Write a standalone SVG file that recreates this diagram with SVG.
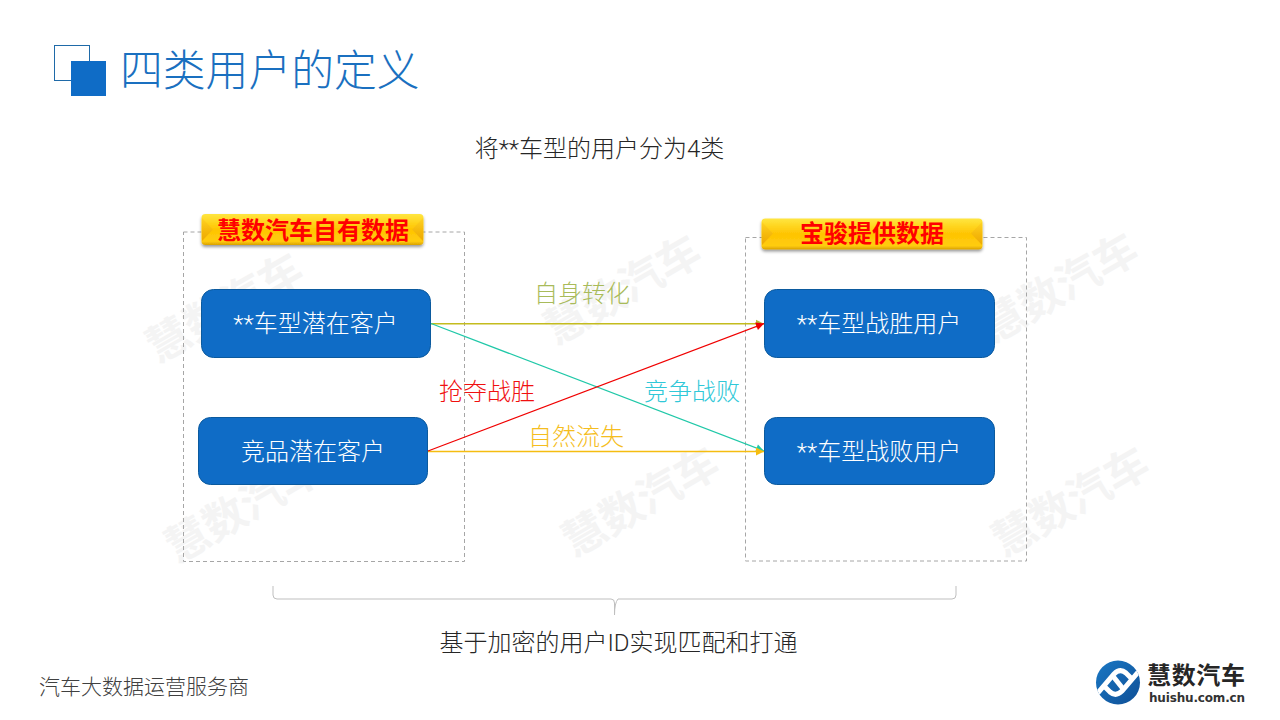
<svg xmlns="http://www.w3.org/2000/svg" width="1280" height="720" viewBox="0 0 1280 720">
<style>
text{font-family:Roboto,"Noto Sans CJK SC",sans-serif;font-weight:300}
.wm{font-size:43px;font-weight:700;fill:#f4f4f4;text-anchor:middle}
.box{fill:#0f6cc6;stroke:#0b5a9e;stroke-width:1}
.nt{fill:#fff;font-size:24px;text-anchor:middle}
.dash{fill:none;stroke:#a6a6a6;stroke-width:1;stroke-dasharray:4 3}
.ban{fill:url(#gold);filter:url(#sh)}
.bt{fill:#f00;font-size:24px;font-weight:700;text-anchor:middle}
.lb{font-size:24px;text-anchor:middle}
.blk{fill:#262626;font-size:24px;text-anchor:middle}
.lg1{font-family:"Noto Sans CJK SC",sans-serif;font-weight:700;font-size:24px;fill:#262626}
.lg2{font-family:"DejaVu Sans",sans-serif;font-weight:700;font-size:12px;fill:#333}
</style>
<defs>
<linearGradient id="gold" x1="0" y1="0" x2="0" y2="1">
<stop offset="0" stop-color="#ffe640"/><stop offset="0.5" stop-color="#ffc400"/><stop offset="0.88" stop-color="#ffcc10"/><stop offset="1" stop-color="#d9a000"/>
</linearGradient>
<linearGradient id="bev" x1="0" y1="0" x2="0" y2="1">
<stop offset="0" stop-color="#ffd020"/><stop offset="1" stop-color="#e8a000"/>
</linearGradient>
<linearGradient id="lg" x1="0" y1="0" x2="1" y2="1">
<stop offset="0" stop-color="#1a78c4"/><stop offset="1" stop-color="#0f4f96"/>
</linearGradient>
<clipPath id="lc"><circle cx="1118" cy="682.500" r="22"/></clipPath>
<filter id="sh" x="-5%" y="-20%" width="110%" height="150%"><feDropShadow dx="0" dy="2" stdDeviation="1.500" flood-color="#000" flood-opacity="0.4"/></filter>
<marker id="aO" markerWidth="10" markerHeight="10" refX="9" refY="5" orient="auto" markerUnits="userSpaceOnUse"><path d="M1 1L9 5L1 9Z" fill="#b4b63a"/></marker>
<marker id="aR" markerWidth="10" markerHeight="10" refX="9" refY="5" orient="auto" markerUnits="userSpaceOnUse"><path d="M1 1L9 5L1 9Z" fill="#f00000"/></marker>
<marker id="aT" markerWidth="10" markerHeight="10" refX="9" refY="5" orient="auto" markerUnits="userSpaceOnUse"><path d="M1 1L9 5L1 9Z" fill="#20c8a8"/></marker>
<marker id="aY" markerWidth="10" markerHeight="10" refX="9" refY="5" orient="auto" markerUnits="userSpaceOnUse"><path d="M1 1L9 5L1 9Z" fill="#f5bd10"/></marker>
</defs>
<rect width="1280" height="720" fill="#fff"/>
<g id="watermarks">
<text class="wm" transform="translate(232 321) rotate(-30)">慧数汽车</text>
<text class="wm" transform="translate(630 303) rotate(-30)">慧数汽车</text>
<text class="wm" transform="translate(1067 301) rotate(-30)">慧数汽车</text>
<text class="wm" transform="translate(251 521) rotate(-30)">慧数汽车</text>
<text class="wm" transform="translate(648 515) rotate(-30)">慧数汽车</text>
<text class="wm" transform="translate(1078 515) rotate(-30)">慧数汽车</text>
</g>
<g id="title">
<rect x="54.500" y="45.500" width="35" height="35" fill="#fff" stroke="#1f6aa8" stroke-width="1"/>
<rect x="71" y="61" width="35" height="35" fill="#0f6cc6"/>
<text x="120" y="85.500" font-size="42.800" fill="#1a70c0">四类用户的定义</text>
</g>
<text x="599.500" y="156.500" class="blk">将**车型的用户分为4类</text>
<g id="left-group">
<rect class="dash" x="183.500" y="232" width="281" height="329.500"/>
<g id="banner-left">
<rect class="ban" x="201.500" y="214" width="222" height="31" rx="4"/>
<path d="M202 218L213 229.500L202 241ZM423 218L412 229.500L423 241Z" fill="url(#bev)" opacity=".8"/>
<text class="bt" x="313" y="239">慧数汽车自有数据</text>
</g>
</g>
<g id="right-group">
<rect class="dash" x="745.500" y="237.500" width="281" height="323.500"/>
<g id="banner-right">
<rect class="ban" x="761.500" y="218.500" width="221" height="31" rx="4"/>
<path d="M762 222L773 233.500L762 245ZM982 222L971 233.500L982 245Z" fill="url(#bev)" opacity=".8"/>
<text class="bt" x="872" y="242">宝骏提供数据</text>
</g>
</g>
<g id="n1"><rect class="box" x="201.500" y="289.500" width="229" height="68" rx="12"/><text class="nt" x="315.500" y="332">**车型潜在客户</text></g>
<g id="n2"><rect class="box" x="198.500" y="417.500" width="229" height="67" rx="12"/><text class="nt" x="313" y="459.500">竞品潜在客户</text></g>
<g id="n3"><rect class="box" x="764.500" y="289.500" width="230" height="68" rx="12"/><text class="nt" x="879" y="332">**车型战胜用户</text></g>
<g id="n4"><rect class="box" x="764.500" y="417.500" width="230" height="67" rx="12"/><text class="nt" x="879" y="459.500">**车型战败用户</text></g>
<g id="connectors" fill="none" stroke-width="1.200">
<path d="M431 323.700H764" stroke="#c4bc1e" stroke-width="1.400" marker-end="url(#aO)"/>
<path d="M431 323.500L764 451" stroke="#20c8a8" marker-end="url(#aT)"/>
<path d="M428 451.500H764" stroke="#f5bd10" stroke-width="1.400" marker-end="url(#aY)"/>
<path d="M428 451L764 323.500" stroke="#f00000" marker-end="url(#aR)"/>
</g>
<text class="lb" x="582" y="302" fill="#a9bb5a">自身转化</text>
<text class="lb" x="487" y="399.500" fill="#f01010">抢夺战胜</text>
<text class="lb" x="692" y="400" fill="#30c8d8">竞争战败</text>
<text class="lb" x="576" y="445" fill="#f5bd20">自然流失</text>
<path id="brace" d="M273 586V595Q273 599 277 599H611Q614.500 599 614.500 603V615Q614.500 603 618 599H952Q956 599 956 595V586" fill="none" stroke="#bfbfbf" stroke-width="1"/>
<text x="618.500" y="650.500" class="blk">基于加密的用户ID实现匹配和打通</text>
<text x="39" y="694" fill="#404040" font-size="21">汽车大数据运营服务商</text>
<g id="logo">
<circle cx="1118" cy="682.500" r="22" fill="url(#lg)"/>
<g fill="none" stroke="#fff" stroke-width="5" clip-path="url(#lc)">
<path d="M1097 694L1114 674Q1120 668 1126 673L1133 680"/>
<path d="M1139 671L1122 691Q1116 697 1110 692L1103 685"/>
<path d="M1112 675L1124 690"/>
</g>
<text class="lg1" x="1147" y="684" textLength="98">慧数汽车</text>
<text class="lg2" x="1149" y="702" textLength="96">huishu.com.cn</text>
</g>
</svg>
